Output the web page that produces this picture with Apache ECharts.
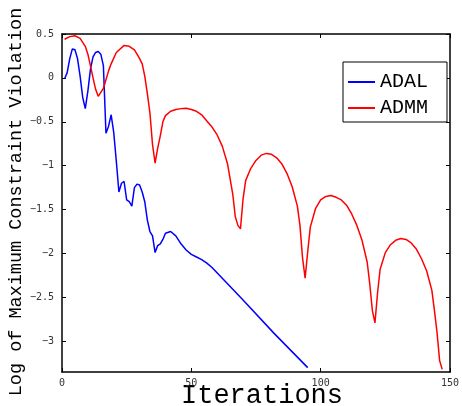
<!DOCTYPE html>
<html>
<head>
<meta charset="utf-8">
<script src="https://cdn.jsdelivr.net/npm/echarts@6/dist/echarts.min.js"></script>
<style>html,body{margin:0;padding:0;background:#fff}#c{width:462px;height:406px}</style>
</head>
<body>
<div id="c"></div>
<script>
var seriesNames = ['ADAL', 'ADMM'];
var xTicks = [0, 50, 100, 150];
var yTicks = [-3, -2.5, -2, -1.5, -1, -0.5, 0, 0.5];
var xTitle = 'Iterations';
var yTitle = 'Log of Maximum Constraint Violation';

var adal = [[1,-0.01],[2,0.06],[3,0.22],[4,0.33],[5,0.32],[6,0.22],[7,0.02],[8,-0.22],[9,-0.35],[10,-0.15],[11,0.10],[12,0.24],[13,0.29],[14,0.30],[15,0.27],[16,0.14],[17,-0.63],[18,-0.55],[19,-0.42],[20,-0.62],[21,-0.95],[22,-1.30],[23,-1.20],[24,-1.18],[25,-1.39],[26,-1.41],[27,-1.46],[28,-1.25],[29,-1.21],[30,-1.22],[31,-1.30],[32,-1.41],[33,-1.62],[34,-1.75],[35,-1.80],[36,-1.99],[37,-1.91],[38,-1.89],[39,-1.84],[40,-1.77],[42,-1.75],[44,-1.80],[46,-1.89],[48,-1.96],[50,-2.01],[52,-2.04],[54,-2.07],[56,-2.11],[58,-2.16],[70,-2.53],[82,-2.91],[95,-3.30]];

var admm = [[1,0.44],[3,0.47],[5,0.48],[7,0.45],[9,0.36],[10,0.27],[11,0.14],[12,0.0],[13,-0.13],[14,-0.21],[16,-0.12],[18,0.08],[19,0.16],[21,0.29],[24,0.37],[26,0.36],[28,0.32],[29,0.27],[30,0.22],[31,0.16],[32,0.02],[33,-0.18],[34,-0.40],[35,-0.76],[36,-0.97],[37,-0.80],[38,-0.66],[39,-0.50],[40,-0.43],[42,-0.38],[44,-0.36],[46,-0.35],[48,-0.345],[50,-0.36],[52,-0.38],[54,-0.42],[56,-0.49],[58,-0.56],[60,-0.65],[62,-0.78],[64,-0.98],[66,-1.32],[67,-1.58],[68,-1.68],[69,-1.72],[70,-1.38],[71,-1.17],[73,-1.03],[75,-0.94],[77,-0.88],[79,-0.86],[81,-0.87],[83,-0.91],[85,-0.98],[87,-1.09],[89,-1.24],[91,-1.46],[92,-1.68],[93,-2.05],[94,-2.28],[95,-1.98],[96,-1.70],[98,-1.49],[100,-1.39],[102,-1.35],[104,-1.34],[106,-1.36],[108,-1.39],[110,-1.45],[112,-1.55],[114,-1.68],[116,-1.85],[118,-2.10],[119,-2.35],[120,-2.65],[121,-2.79],[122,-2.45],[123,-2.18],[125,-1.99],[127,-1.90],[129,-1.85],[131,-1.83],[133,-1.84],[135,-1.88],[137,-1.95],[139,-2.06],[141,-2.20],[143,-2.42],[144,-2.65],[145,-2.90],[146,-3.22],[147,-3.32]];

var chart = echarts.init(document.getElementById('c'), null, {renderer: 'canvas'});
var axisLine = {show: true, onZero: false, lineStyle: {color: '#000', width: 1.5}};
var tickFont = {fontFamily: 'DejaVu Sans Mono', fontSize: 10, color: '#333'};
function fmt(v) { return String(v).replace('-', '\u2212'); }

chart.setOption({
  animation: false,
  backgroundColor: '#fff',
  grid: {left: 62, right: 10, top: 34, bottom: 34, containLabel: false},
  xAxis: [
    {type: 'value', min: 0, max: 150, interval: 50, position: 'bottom',
     axisLine: axisLine, axisTick: {show: true, inside: true, length: 4, lineStyle: {color: '#000'}},
     axisLabel: Object.assign({margin: 6, customValues: xTicks, formatter: fmt}, tickFont),
     splitLine: {show: false}},
    {type: 'value', min: 0, max: 150, interval: 50, position: 'top',
     axisLine: axisLine, axisTick: {show: true, inside: true, length: 4, lineStyle: {color: '#000'}},
     axisLabel: {show: false}, splitLine: {show: false}}
  ],
  yAxis: [
    {type: 'value', min: -3.35, max: 0.5, position: 'left',
     axisLine: axisLine,
     axisTick: {show: true, inside: true, length: 4, customValues: yTicks, lineStyle: {color: '#000'}},
     axisLabel: Object.assign({margin: 8, customValues: yTicks, formatter: fmt}, tickFont),
     splitLine: {show: false}},
    {type: 'value', min: -3.35, max: 0.5, position: 'right',
     axisLine: axisLine,
     axisTick: {show: true, inside: true, length: 4, customValues: yTicks, lineStyle: {color: '#000'}},
     axisLabel: {show: false}, splitLine: {show: false}}
  ],
  legend: {
    orient: 'vertical', left: 343, top: 62,
    padding: [10, 19, 4, 5], itemGap: 6, itemWidth: 27, itemHeight: 2, icon: 'rect',
    borderColor: '#000', borderWidth: 1, backgroundColor: '#fff',
    textStyle: {fontFamily: 'Liberation Mono', fontSize: 20, lineHeight: 20, color: '#000'},
    data: seriesNames
  },
  graphic: [
    {type: 'text', x: 262, y: 396, style: {text: xTitle, font: '27px "Liberation Mono"', fill: '#000', align: 'center', verticalAlign: 'middle'}},
    {type: 'text', x: 16, y: 202, rotation: Math.PI / 2, style: {text: yTitle, font: '18.5px "Liberation Mono"', fill: '#000', align: 'center', verticalAlign: 'middle'}}
  ],
  series: [
    {name: seriesNames[0], type: 'line', data: adal, showSymbol: false, lineStyle: {color: '#0000ff', width: 1.5}, itemStyle: {color: '#0000ff'}},
    {name: seriesNames[1], type: 'line', data: admm, showSymbol: false, lineStyle: {color: '#ff0000', width: 1.5}, itemStyle: {color: '#ff0000'}}
  ]
});
</script>
</body>
</html>
